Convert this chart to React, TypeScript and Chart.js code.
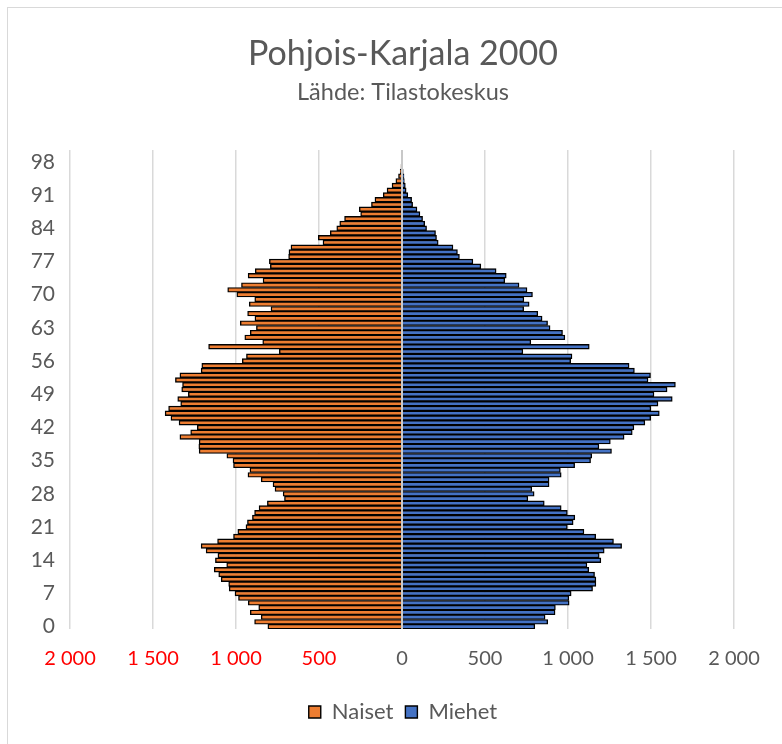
import React, { useEffect, useRef } from "react";
import { Chart, registerables } from "chart.js";

Chart.register(...registerables);

const ages: string[] = Array.from({ length: 101 }, (_, i) => String(i));
const ageTickLabels = ["0", "7", "14", "21", "28", "35", "42", "49", "56", "63", "70", "77", "84", "91", "98"];

// Naiset (women), ages 0..100
const naiset = [
  808, 888, 848, 914, 863, 926, 985, 1006, 1041, 1044,
  1089, 1104, 1131, 1056, 1124, 1109, 1180, 1210, 1111, 1015,
  989, 940, 931, 901, 888, 861, 811, 708, 716, 765,
  777, 848, 928, 916, 1015, 1018, 1055, 1222, 1224, 1222,
  1338, 1273, 1233, 1343, 1392, 1427, 1406, 1333, 1351, 1287,
  1327, 1322, 1365, 1338, 1210, 1206, 962, 937, 739, 1165,
  839, 947, 914, 877, 974, 886, 930, 789, 920, 887,
  995, 1050, 967, 837, 927, 884, 793, 799, 683, 681,
  669, 476, 504, 432, 393, 375, 346, 249, 257, 184,
  163, 113, 90, 60, 37, 21, 11, 6, 4, 2,
  1,
];

// Miehet (men), ages 0..100
const miehet = [
  800, 878, 862, 922, 924, 1007, 1005, 1019, 1148, 1168,
  1168, 1160, 1125, 1114, 1198, 1188, 1218, 1323, 1274, 1167,
  1096, 996, 1031, 1041, 996, 959, 857, 758, 796, 782,
  886, 886, 959, 954, 1040, 1136, 1143, 1262, 1186, 1255,
  1338, 1387, 1397, 1463, 1498, 1550, 1499, 1542, 1628, 1518,
  1597, 1647, 1482, 1497, 1400, 1368, 1016, 1024, 728, 1128,
  776, 981, 967, 892, 877, 844, 818, 733, 766, 734,
  786, 753, 705, 619, 628, 567, 475, 427, 346, 334,
  307, 218, 208, 202, 148, 137, 124, 108, 90, 64,
  58, 35, 25, 20, 14, 12, 7, 4, 2, 1,
  0,
];

const xMin = -2000;
const xMax = 2000;
const xStep = 500;

const fmt = (v: number) => String(Math.abs(v)).replace(/\B(?=(\d{3})+(?!\d))/g, " ");

export default function App() {
  const ref = useRef<HTMLCanvasElement>(null);

  useEffect(() => {
    if (!ref.current) return;
    Chart.defaults.font.family = "Lato";
    const zeroLine = {
      id: "zeroLine",
      afterDatasetsDraw(chart: any) {
        const { ctx, chartArea, scales } = chart;
        const px = scales.x.getPixelForValue(0);
        ctx.save();
        ctx.strokeStyle = "#c8c8c8";
        ctx.lineWidth = 2;
        ctx.beginPath();
        ctx.moveTo(px, chartArea.top);
        ctx.lineTo(px, chartArea.bottom);
        ctx.stroke();
        ctx.restore();
      },
    };
    const font = { family: "Lato", size: 20 };
    const chart = new Chart(ref.current, {
      type: "bar",
      data: {
        labels: ages,
        datasets: [
          {
            label: "Naiset",
            data: naiset.map((v) => -v),
            backgroundColor: "#ED7D31",
            borderColor: "#000000",
            borderWidth: 1.4,
            categoryPercentage: 1,
            barPercentage: 1,
            yAxisID: "y",
          },
          {
            label: "Miehet",
            data: miehet,
            backgroundColor: "#4472C4",
            borderColor: "#000000",
            borderWidth: 1.4,
            categoryPercentage: 1,
            barPercentage: 1,
            yAxisID: "y",
          },
        ],
      },
      options: {
        indexAxis: "y",
        animation: false,
        responsive: false,
        maintainAspectRatio: false,
        layout: { padding: { left: 0, right: 0, top: 0, bottom: 11 } },
        plugins: {
          title: {
            display: true,
            text: "Pohjois-Karjala 2000",
            color: "#595959",
            font: { family: "Lato", size: 34, weight: "normal" },
            padding: { top: 34, bottom: 0 },
          },
          subtitle: {
            display: true,
            text: "Lähde: Tilastokeskus",
            color: "#595959",
            font: { family: "Lato", size: 23.5, weight: "normal" },
            padding: { top: 4, bottom: 43 },
          },
          legend: {
            position: "bottom",
            labels: {
              color: "#595959",
              font: { family: "Lato", size: 22 },
              boxWidth: 12,
              boxHeight: 12,
              padding: 12,
            },
          },
          tooltip: { enabled: false },
        },
        scales: {
          x: {
            type: "linear",
            min: xMin,
            max: xMax,
            stacked: true,
            ticks: {
              stepSize: xStep,
              font,
              padding: 18,
              color: (c: any) => (c.tick && c.tick.value < 0 ? "#FF0000" : "#595959"),
              callback: (v: any) => fmt(Number(v)),
            },
            grid: { color: "#d9d9d9", lineWidth: 1.5, drawTicks: false },
            border: { display: false },
          },
          y: {
            type: "category",
            position: "left",
            stacked: true,
            reverse: true,
            grid: { display: false, drawTicks: false },
            border: { display: false },
            ticks: {
              autoSkip: false,
              font: { family: "Lato", size: 21 },
              color: "#595959",
              padding: 15,
              callback: (_v: any, i: number) => (ageTickLabels.includes(ages[i]) ? ages[i] : ""),
            },
            afterFit: (s: any) => {
              s.width = 70;
            },
          },
          yR: {
            type: "linear",
            position: "right",
            display: true,
            min: 0,
            max: 1,
            grid: { display: false, drawTicks: false },
            border: { display: false },
            ticks: { display: false },
            afterFit: (s: any) => {
              s.width = 72;
            },
          },
        },
      },
      plugins: [zeroLine],
    } as any);
    return () => chart.destroy();
  }, []);

  return (
    <div style={{ position: "fixed", left: 0, top: 0, width: 782, height: 744, overflow: "hidden", background: "#fff" }}>
      <div
        style={{
          position: "absolute",
          left: 7,
          top: 7,
          width: 820,
          height: 800,
          border: "1px solid #d9d9d9",
          boxSizing: "border-box",
        }}
      />
      <canvas
        ref={ref}
        width={806}
        height={744}
        style={{ position: "absolute", left: 0, top: 0, width: 806, height: 744 }}
      />
    </div>
  );
}
